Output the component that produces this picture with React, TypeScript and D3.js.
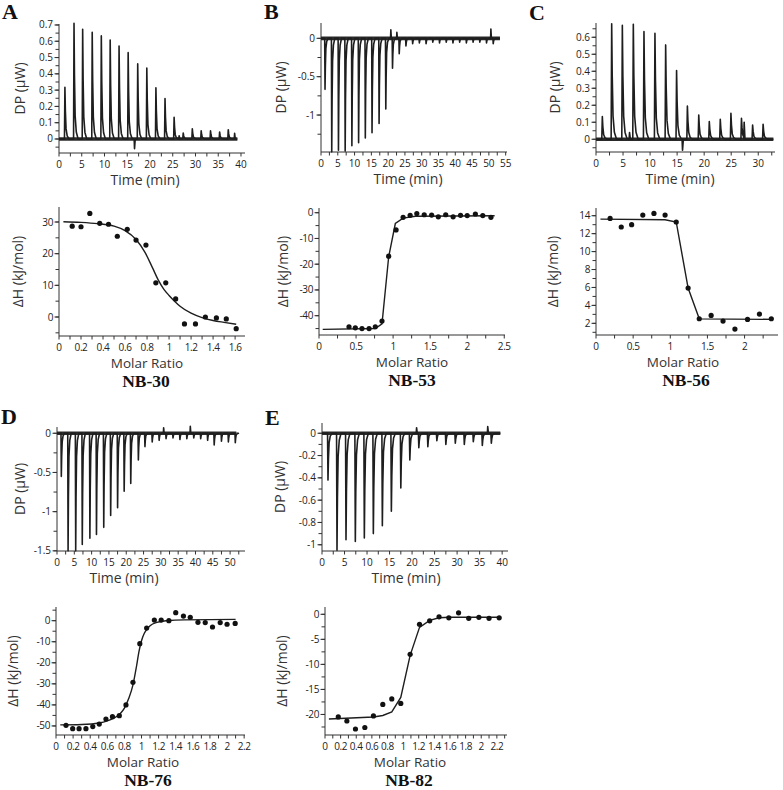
import React from "react";
import * as d3 from "d3";

// ---------- Panel A (NB-30) ----------
const aInjTime = [1.3, 3.3, 5.2, 7.3, 9.3, 11.25, 13.2, 15.2, 17.3, 19.3, 21.3, 23.3, 25.3, 27.3, 29.3, 31.25, 33.3, 35.3, 37.2];
const aInjPeak = [0.318, 0.71, 0.673, 0.655, 0.633, 0.608, 0.571, 0.53, 0.461, 0.435, 0.314, 0.249, 0.133, 0.037, 0.063, 0.05, 0.05, 0.043, 0.057];
const aArtifacts: [number, number][] = [[16.6, -0.06], [38.6, 0.035], [26.4, 0.02]];
const aTraceEnd = 39.2;
const aRatio = [0.12, 0.2, 0.28, 0.37, 0.45, 0.53, 0.62, 0.7, 0.79, 0.88, 0.97, 1.06, 1.14, 1.24, 1.33, 1.43, 1.52, 1.61];
const aDH = [28.7, 28.5, 32.7, 29.6, 29.3, 25.5, 27.7, 24.3, 22.7, 10.8, 10.8, 5.7, -2.2, -2.2, 0.0, -0.3, -0.6, -3.7];
const aFitRatio = [0.04, 0.2, 0.35, 0.5, 0.6, 0.7, 0.78, 0.85, 0.9, 0.95, 1.0, 1.05, 1.1, 1.2, 1.3, 1.4, 1.5, 1.61];
const aFitDH = [30.1, 29.9, 29.5, 28.7, 27.3, 24.5, 20.5, 15.5, 11.8, 8.9, 6.8, 5.0, 3.4, 1.2, -0.2, -1.1, -1.7, -2.3];

// ---------- Panel B (NB-53) ----------
const bInjTime = [1.2, 3.2, 5.2, 7.2, 9.2, 11.2, 13.2, 15.2, 17.3, 19.3, 21.3, 23.3, 25.3, 27.3, 29.3, 31.3, 33.3, 35.3, 37.3, 39.3, 41.3, 43.3, 45.3, 47.3, 49.3, 51.3];
const bInjPeak = [-0.665, -1.48, -1.46, -1.47, -1.4, -1.36, -1.3, -1.23, -1.11, -0.92, -0.39, -0.2, -0.1, -0.07, -0.06, -0.07, -0.05, -0.06, -0.05, -0.06, -0.05, -0.06, -0.05, -0.05, -0.06, -0.07];
const bArtifacts: [number, number][] = [[20.8, 0.11], [22.6, 0.08], [50.6, 0.12]];
const bTraceEnd = 53.3;
const bRatio = [0.405, 0.49, 0.58, 0.676, 0.76, 0.85, 0.94, 1.04, 1.135, 1.23, 1.32, 1.42, 1.52, 1.61, 1.71, 1.81, 1.91, 2.0, 2.11, 2.21, 2.32];
const bDH = [-44.3, -44.7, -45.0, -45.0, -44.3, -42.1, -16.9, -6.7, -1.8, -1.0, -0.3, -0.8, -0.9, -1.6, -0.8, -1.6, -1.0, -1.1, -0.5, -1.1, -1.8];
const bFitRatio = [0.05, 0.76, 0.85, 0.94, 1.03, 1.135, 1.3, 2.37];
const bFitDH = [-45.3, -45.0, -43.2, -17.2, -4.2, -2.1, -1.4, -1.2];

// ---------- Panel C (NB-56) ----------
const cInjTime = [1.17, 2.9, 4.87, 6.9, 8.87, 10.9, 12.88, 14.9, 16.9, 19.0, 20.95, 22.98, 24.95, 26.9, 28.96, 30.9];
const cInjPeak = [0.133, 0.68, 0.67, 0.676, 0.633, 0.624, 0.555, 0.404, 0.196, 0.143, 0.104, 0.118, 0.153, 0.124, 0.084, 0.088];
const cArtifacts: [number, number][] = [[16.0, -0.065], [27.4, 0.1], [6.2, 0.04]];
const cTraceEnd = 32.8;
const cRatio = [0.19, 0.34, 0.48, 0.63, 0.78, 0.93, 1.08, 1.24, 1.39, 1.55, 1.71, 1.87, 2.04, 2.2, 2.36];
const cDH = [13.7, 12.74, 13.0, 14.07, 14.26, 14.07, 13.3, 5.93, 2.51, 2.88, 2.25, 1.36, 2.44, 3.03, 2.51];
const cFitRatio = [0.06, 0.93, 1.08, 1.24, 1.39, 2.38];
const cFitDH = [13.62, 13.55, 13.3, 5.93, 2.5, 2.44];

// ---------- Panel D (NB-76) ----------
const dInjTime = [1.25, 3.2, 5.4, 7.3, 9.5, 11.4, 13.5, 15.5, 17.5, 19.4, 21.3, 23.5, 25.4, 27.5, 29.5, 31.5, 33.5, 35.5, 37.5, 39.5, 41.5, 43.5, 45.4, 47.5, 49.5, 51.5];
const dInjPeak = [-0.55, -1.5, -1.5, -1.42, -1.34, -1.29, -1.2, -1.05, -0.95, -0.74, -0.64, -0.34, -0.17, -0.11, -0.09, -0.07, -0.06, -0.08, -0.07, -0.06, -0.07, -0.09, -0.15, -0.1, -0.11, -0.12];
const dArtifacts: [number, number][] = [[38.5, 0.09], [30.8, 0.07]];
const dTraceEnd = 51.8;
const dRatio = [0.117, 0.195, 0.27, 0.35, 0.43, 0.506, 0.584, 0.66, 0.74, 0.818, 0.9, 0.98, 1.06, 1.15, 1.23, 1.32, 1.4, 1.49, 1.57, 1.66, 1.745, 1.83, 1.92, 2.0, 2.095];
const dDH = [-49.7, -51.3, -51.3, -51.3, -50.3, -49.1, -46.7, -45.6, -45.1, -40.0, -29.3, -10.9, -3.5, 0.3, 0.3, 0.0, 3.8, 2.2, 1.6, -0.8, -0.9, -3.0, -0.9, -1.7, -1.3];
const dFitRatio = [0.05, 0.3, 0.5, 0.6, 0.67, 0.75, 0.8, 0.85, 0.9, 0.94, 0.97, 1.0, 1.03, 1.06, 1.1, 1.18, 1.3, 1.5, 2.1];
const dFitDH = [-49.5, -49.3, -48.6, -47.6, -46.4, -44.2, -41.5, -37, -30.5, -22, -14.7, -9.5, -6.2, -4.2, -2.4, -0.8, 0.0, 0.4, 0.6];

// ---------- Panel E (NB-82) ----------
const eInjTime = [1.33, 3.33, 5.33, 7.4, 9.4, 11.4, 13.4, 15.4, 17.5, 19.5, 21.5, 23.5, 25.5, 27.5, 29.6, 31.6, 33.6, 35.6, 37.6];
const eInjPeak = [-0.42, -1.05, -0.955, -0.97, -0.94, -0.9, -0.83, -0.7, -0.49, -0.24, -0.13, -0.12, -0.066, -0.1, -0.09, -0.1, -0.075, -0.11, -0.09];
const eArtifacts: [number, number][] = [[36.8, 0.06], [21.0, 0.05]];
const eTraceEnd = 39.6;
const eRatio = [0.17, 0.28, 0.39, 0.51, 0.62, 0.74, 0.855, 0.97, 1.09, 1.21, 1.34, 1.46, 1.585, 1.71, 1.84, 1.97, 2.1, 2.23];
const eDH = [-20.5, -21.3, -22.9, -22.6, -20.3, -18.0, -16.9, -17.8, -8.0, -2.0, -1.3, -0.5, -0.7, 0.3, -0.8, -0.6, -0.8, -0.7];
const eFitRatio = [0.05, 0.62, 0.74, 0.855, 0.97, 1.09, 1.21, 1.34, 1.46, 1.6, 2.24];
const eFitDH = [-20.9, -20.5, -20.2, -19.5, -16.6, -8.2, -2.6, -1.2, -0.7, -0.6, -0.6];

// ---------- Layout (geometry only) ----------
const FONT = "'Open Sans', 'Noto Sans', 'DejaVu Sans', sans-serif";
const SERIF = "'Liberation Serif', 'Times New Roman', serif";
const INK = "#222";

type Geo = {
  left: number; right: number; top: number; bottom: number;
  xMax: number; yMin: number; yMax: number;
  xStep: number; xMinor: number; yStep: number; yMinor: number;
  yLabelX: number; xLabelX: number;
};

const panels = [
  {
    letter: "A", lx: 2, ly: 19, nb: "NB-30", nbX: 146,
    top: { left: 59, right: 245, top: 24, bottom: 153, xMax: 40.88, yMin: -0.086, yMax: 0.706, xStep: 5, xMinor: 2.5, yStep: 0.1, yMinor: 0.05, yLabelX: 20, xLabelX: 145 },
    bot: { left: 59, right: 245, top: 207, bottom: 336, xMax: 1.69, yMin: -6.0, yMax: 34.74, xStep: 0.2, xMinor: 0.1, yStep: 10, yMinor: 5, yLabelX: 18, xLabelX: 147 },
    thermo: { times: aInjTime, peaks: aInjPeak, extras: aArtifacts, end: aTraceEnd },
    iso: { r: aRatio, h: aDH, fr: aFitRatio, fh: aFitDH, smooth: true },
  },
  {
    letter: "B", lx: 264, ly: 19, nb: "NB-53", nbX: 412,
    top: { left: 321, right: 507, top: 23, bottom: 152, xMax: 55.4, yMin: -1.482, yMax: 0.2, xStep: 5, xMinor: 2.5, yStep: 0.5, yMinor: 0.25, yLabelX: 281, xLabelX: 408 },
    bot: { left: 319, right: 505, top: 208, bottom: 335, xMax: 2.51, yMin: -47.5, yMax: 1.83, xStep: 0.5, xMinor: 0.25, yStep: 10, yMinor: 5, yLabelX: 283, xLabelX: 412 },
    thermo: { times: bInjTime, peaks: bInjPeak, extras: bArtifacts, end: bTraceEnd },
    iso: { r: bRatio, h: bDH, fr: bFitRatio, fh: bFitDH, smooth: false },
  },
  {
    letter: "C", lx: 529, ly: 20, nb: "NB-56", nbX: 686,
    top: { left: 596, right: 775, top: 23, bottom: 152, xMax: 33.1, yMin: -0.075, yMax: 0.684, xStep: 5, xMinor: 2.5, yStep: 0.1, yMinor: 0.05, yLabelX: 555, xLabelX: 680 },
    bot: { left: 596, right: 778, top: 208, bottom: 335, xMax: 2.45, yMin: 0.7, yMax: 14.86, xStep: 0.5, xMinor: 0.25, yStep: 2, yMinor: 1, yLabelX: 553, xLabelX: 683 },
    thermo: { times: cInjTime, peaks: cInjPeak, extras: cArtifacts, end: cTraceEnd },
    iso: { r: cRatio, h: cDH, fr: cFitRatio, fh: cFitDH, smooth: false },
  },
  {
    letter: "D", lx: 1, ly: 424, nb: "NB-76", nbX: 148,
    top: { left: 57, right: 245, top: 427, bottom: 551, xMax: 54.3, yMin: -1.502, yMax: 0.08, xStep: 5, xMinor: 2.5, yStep: 0.5, yMinor: 0.25, yLabelX: 20, xLabelX: 124 },
    bot: { left: 56, right: 245, top: 607, bottom: 735, xMax: 2.21, yMin: -54.3, yMax: 6.5, xStep: 0.2, xMinor: 0.1, yStep: 10, yMinor: 5, yLabelX: 13, xLabelX: 143 },
    thermo: { times: dInjTime, peaks: dInjPeak, extras: dArtifacts, end: dTraceEnd },
    iso: { r: dRatio, h: dDH, fr: dFitRatio, fh: dFitDH, smooth: true },
  },
  {
    letter: "E", lx: 265, ly: 425, nb: "NB-82", nbX: 409,
    top: { left: 322, right: 508, top: 423, bottom: 551, xMax: 41.3, yMin: -1.056, yMax: 0.092, xStep: 5, xMinor: 2.5, yStep: 0.2, yMinor: 0.1, yLabelX: 280, xLabelX: 406 },
    bot: { left: 325, right: 507, top: 607, bottom: 735, xMax: 2.33, yMin: -24.1, yMax: 1.46, xStep: 0.2, xMinor: 0.1, yStep: 5, yMinor: 2.5, yLabelX: 282, xLabelX: 410 },
    thermo: { times: eInjTime, peaks: eInjPeak, extras: eArtifacts, end: eTraceEnd },
    iso: { r: eRatio, h: eDH, fr: eFitRatio, fh: eFitDH, smooth: false },
  },
];

function multiples(lo: number, hi: number, step: number): number[] {
  const out: number[] = [];
  const i0 = Math.ceil(lo / step - 1e-6);
  const i1 = Math.floor(hi / step + 1e-6);
  for (let i = i0; i <= i1; i++) out.push(+(i * step).toFixed(4));
  return out;
}
const fmt = (v: number) => String(+v.toFixed(3));

function Frame({ g, x, y, fontSize, spacing, xTitle, yTitle, labelGap, titleGap, titleSize }: any) {
  const xMaj = multiples(0, g.xMax, g.xStep);
  const xMin = multiples(0, g.xMax, g.xMinor);
  const yMaj = multiples(g.yMin, g.yMax, g.yStep);
  const yMin = multiples(g.yMin, g.yMax, g.yMinor);
  const midY = (g.top + g.bottom) / 2;
  return (
    <g>
      <line x1={g.left} x2={g.right} y1={g.bottom} y2={g.bottom} stroke="#333" strokeWidth={1} />
      <line x1={g.left} x2={g.left} y1={g.top} y2={g.bottom} stroke="#333" strokeWidth={1} />
      {xMin.map((v) => (
        <line key={"xm" + v} x1={x(v)} x2={x(v)} y1={g.bottom} y2={g.bottom + 3.5} stroke="#333" strokeWidth={1} />
      ))}
      {xMaj.map((v) => (
        <text key={"xl" + v} x={x(v)} y={g.bottom + labelGap} textAnchor="middle" fontFamily={FONT} fontSize={fontSize} letterSpacing={spacing} fill={INK}>
          {fmt(v)}
        </text>
      ))}
      {yMin.map((v) => (
        <line key={"ym" + v} x1={g.left - 3.5} x2={g.left} y1={y(v)} y2={y(v)} stroke="#333" strokeWidth={1} />
      ))}
      {yMaj.map((v) => (
        <g key={"yl" + v}>
          <line x1={g.left - 4.5} x2={g.left} y1={y(v)} y2={y(v)} stroke="#333" strokeWidth={1} />
          <text x={g.left - 6} y={y(v) + fontSize * 0.35} textAnchor="end" fontFamily={FONT} fontSize={fontSize} letterSpacing={spacing} fill={INK}>
            {fmt(v)}
          </text>
        </g>
      ))}
      <text x={g.xLabelX} y={g.bottom + titleGap} textAnchor="middle" fontFamily={FONT} fontSize={titleSize} fill="#333">
        {xTitle}
      </text>
      <text transform={`translate(${g.yLabelX + 5},${midY}) rotate(-90)`} textAnchor="middle" fontFamily={FONT} fontSize={14} fill="#333">
        {yTitle}
      </text>
    </g>
  );
}

function Thermogram({ g, data }: { g: Geo; data: any }) {
  const x = d3.scaleLinear().domain([0, g.xMax]).range([g.left, g.right]);
  const y = d3.scaleLinear().domain([g.yMin, g.yMax]).range([g.bottom, g.top]);
  const events: [number, number, boolean][] = data.times
    .map((t: number, i: number) => [t, data.peaks[i], true])
    .concat(data.extras.map((e: [number, number]) => [e[0], e[1], false]))
    .sort((a: any, b: any) => a[0] - b[0]);
  const pts: [number, number][] = [[0, 0]];
  events.forEach(([t, h, inj]) => {
    if (inj) {
      pts.push([t - 0.1, 0], [t, h], [t + 0.1, 0.55 * h], [t + 0.25, 0.2 * h], [t + 0.5, 0.06 * h], [t + 0.9, 0]);
    } else {
      pts.push([t - 0.08, 0], [t, h], [t + 0.15, 0]);
    }
  });
  pts.push([data.end, 0]);
  const line = d3.line<[number, number]>().x((d) => x(d[0])).y((d) => y(d[1]));
  return (
    <g>
      <Frame g={g} x={x} y={y} fontSize={10} spacing={0} xTitle="Time (min)" yTitle="DP (μW)" labelGap={15} titleGap={32} titleSize={14} />
      <line x1={x(0)} x2={x(data.end)} y1={y(0)} y2={y(0)} stroke="#2a2a2a" strokeWidth={3.6} />
      <path d={line(pts) || ""} fill="none" stroke="#1e1e1e" strokeWidth={1.6} strokeLinejoin="round" />
    </g>
  );
}

function Isotherm({ g, data }: { g: Geo; data: any }) {
  const x = d3.scaleLinear().domain([0, g.xMax]).range([g.left, g.right]);
  const y = d3.scaleLinear().domain([g.yMin, g.yMax]).range([g.bottom, g.top]);
  const fit: [number, number][] = data.fr.map((r: number, i: number) => [r, data.fh[i]]);
  const line = d3
    .line<[number, number]>()
    .x((d) => x(d[0]))
    .y((d) => y(d[1]))
    .curve(data.smooth ? d3.curveMonotoneX : d3.curveLinear);
  return (
    <g>
      <Frame g={g} x={x} y={y} fontSize={10} spacing={-0.4} xTitle="Molar Ratio" yTitle="ΔH (kJ/mol)" labelGap={14.5} titleGap={31.8} titleSize={13.5} />
      <path d={line(fit) || ""} fill="none" stroke="#1e1e1e" strokeWidth={1.4} />
      {data.r.map((r: number, i: number) => (
        <circle key={i} cx={x(r)} cy={y(data.h[i])} r={2.6} fill="#111" />
      ))}
    </g>
  );
}

export default function App() {
  return (
    <svg width={783} height={790} style={{ position: "absolute", left: 0, top: 0, display: "block", background: "#fff" }}>
      <rect x={0} y={0} width={783} height={790} fill="#fff" />
      {panels.map((p) => (
        <g key={p.letter}>
          <text x={p.lx} y={p.ly} fontFamily={SERIF} fontWeight="bold" fontSize={22} fill="#111">
            {p.letter}
          </text>
          <Thermogram g={p.top} data={p.thermo} />
          <Isotherm g={p.bot} data={p.iso} />
          <text x={p.nbX} y={p.bot.bottom + 51} textAnchor="middle" fontFamily={SERIF} fontWeight="bold" fontSize={17.5} fill="#111">
            {p.nb}
          </text>
        </g>
      ))}
    </svg>
  );
}
